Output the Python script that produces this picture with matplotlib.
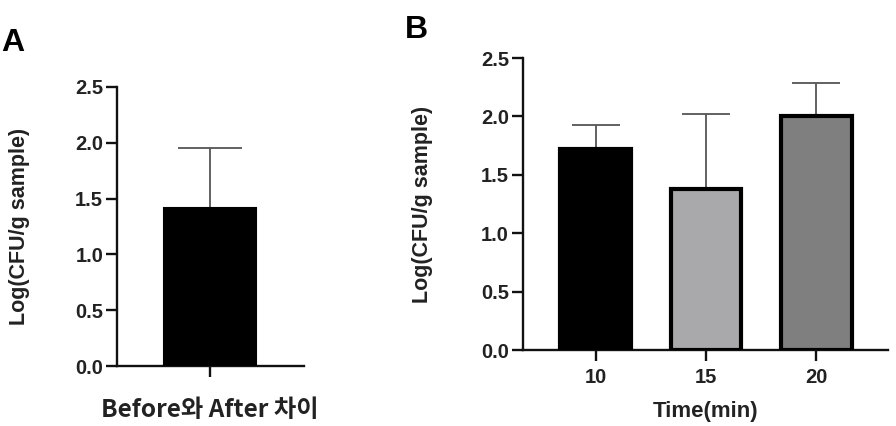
import matplotlib
matplotlib.use("Agg")
import matplotlib.pyplot as plt
import numpy as np

plt.rcParams['font.family'] = ['Liberation Sans', 'Noto Sans CJK KR', 'DejaVu Sans']
plt.rcParams['font.weight'] = 'bold'

# Panel A
a_labels = ['Before와 After 차이']
a_means = [1.415]
a_errs = [0.535]

# Panel B
b_labels = ['10', '15', '20']
b_means = [1.72, 1.38, 2.00]
b_errs = [0.21, 0.64, 0.29]
b_colors = ['#000000', '#a9a9ab', '#7f7f7f']

ylabel = 'Log(CFU/g sample)'
yticks = [0.0, 0.5, 1.0, 1.5, 2.0, 2.5]


def style_axis(ax):
    for side in ['top', 'right']:
        ax.spines[side].set_visible(False)
    for side in ['left', 'bottom']:
        ax.spines[side].set_linewidth(1.7)
        ax.spines[side].set_color('#111111')
    ax.set_ylim(0, 2.5)
    ax.set_yticks(yticks)
    ax.set_yticklabels(['%.1f' % t for t in yticks])
    ax.tick_params(axis='both', direction='out', length=8, width=1.7,
                   labelsize=14.5, color='#111111', labelcolor='#222222')
    ax.tick_params(axis='y', pad=2)
    ax.tick_params(axis='x', pad=5)
    for lab in ax.get_xticklabels() + ax.get_yticklabels():
        lab.set_fontweight('bold')


fig = plt.figure(figsize=(8.96, 4.26), dpi=100)

axA = fig.add_axes([0.1306, 0.1408, 0.209, 0.655])
xa = np.arange(len(a_means))
axA.bar(xa, a_means, width=0.99, color='black', edgecolor='black', linewidth=1.5, zorder=3)
axA.errorbar(xa, a_means, yerr=[[0] * len(a_errs), a_errs], fmt='none',
             ecolor='#555555', elinewidth=1.3, capsize=23, capthick=1.3, zorder=2)
axA.set_xlim(-1.0, 1.02)
axA.set_xticks(xa)
axA.set_xticklabels([''])
style_axis(axA)
axA.text(0, -0.395, a_labels[0], ha='center', va='center', fontsize=17.5,
         fontweight='bold', color='#222222', family=['Noto Sans CJK KR'],
         transform=axA.transData, clip_on=False)
axA.set_ylabel(ylabel, fontsize=15.5, fontweight='bold', color='#222222')
axA.yaxis.set_label_coords(-0.465, 0.5)
fig.text(0.001, 0.9, 'A', fontsize=23, fontweight='bold', ha='left', va='center')

axB = fig.add_axes([0.5837, 0.1784, 0.4073, 0.6854])
xb = np.arange(len(b_means))
axB.bar(xb, b_means, width=0.64, color=b_colors, edgecolor='black', linewidth=3, zorder=3)
axB.errorbar(xb, b_means, yerr=[[0] * len(b_errs), b_errs], fmt='none',
             ecolor='#555555', elinewidth=1.3, capsize=17, capthick=1.3, zorder=2)
axB.set_xlim(-0.66, 2.65)
axB.set_xticks(xb)
axB.set_xticklabels(b_labels)
style_axis(axB)
axB.set_xlabel('Time(min)', fontsize=16, fontweight='bold', color='#222222', labelpad=10)
axB.set_ylabel(ylabel, fontsize=15.5, fontweight='bold', color='#222222')
axB.yaxis.set_label_coords(-0.247, 0.5)
fig.text(0.452, 0.93, 'B', fontsize=23, fontweight='bold', ha='left', va='center')

fig.savefig('out.png', dpi=100)
